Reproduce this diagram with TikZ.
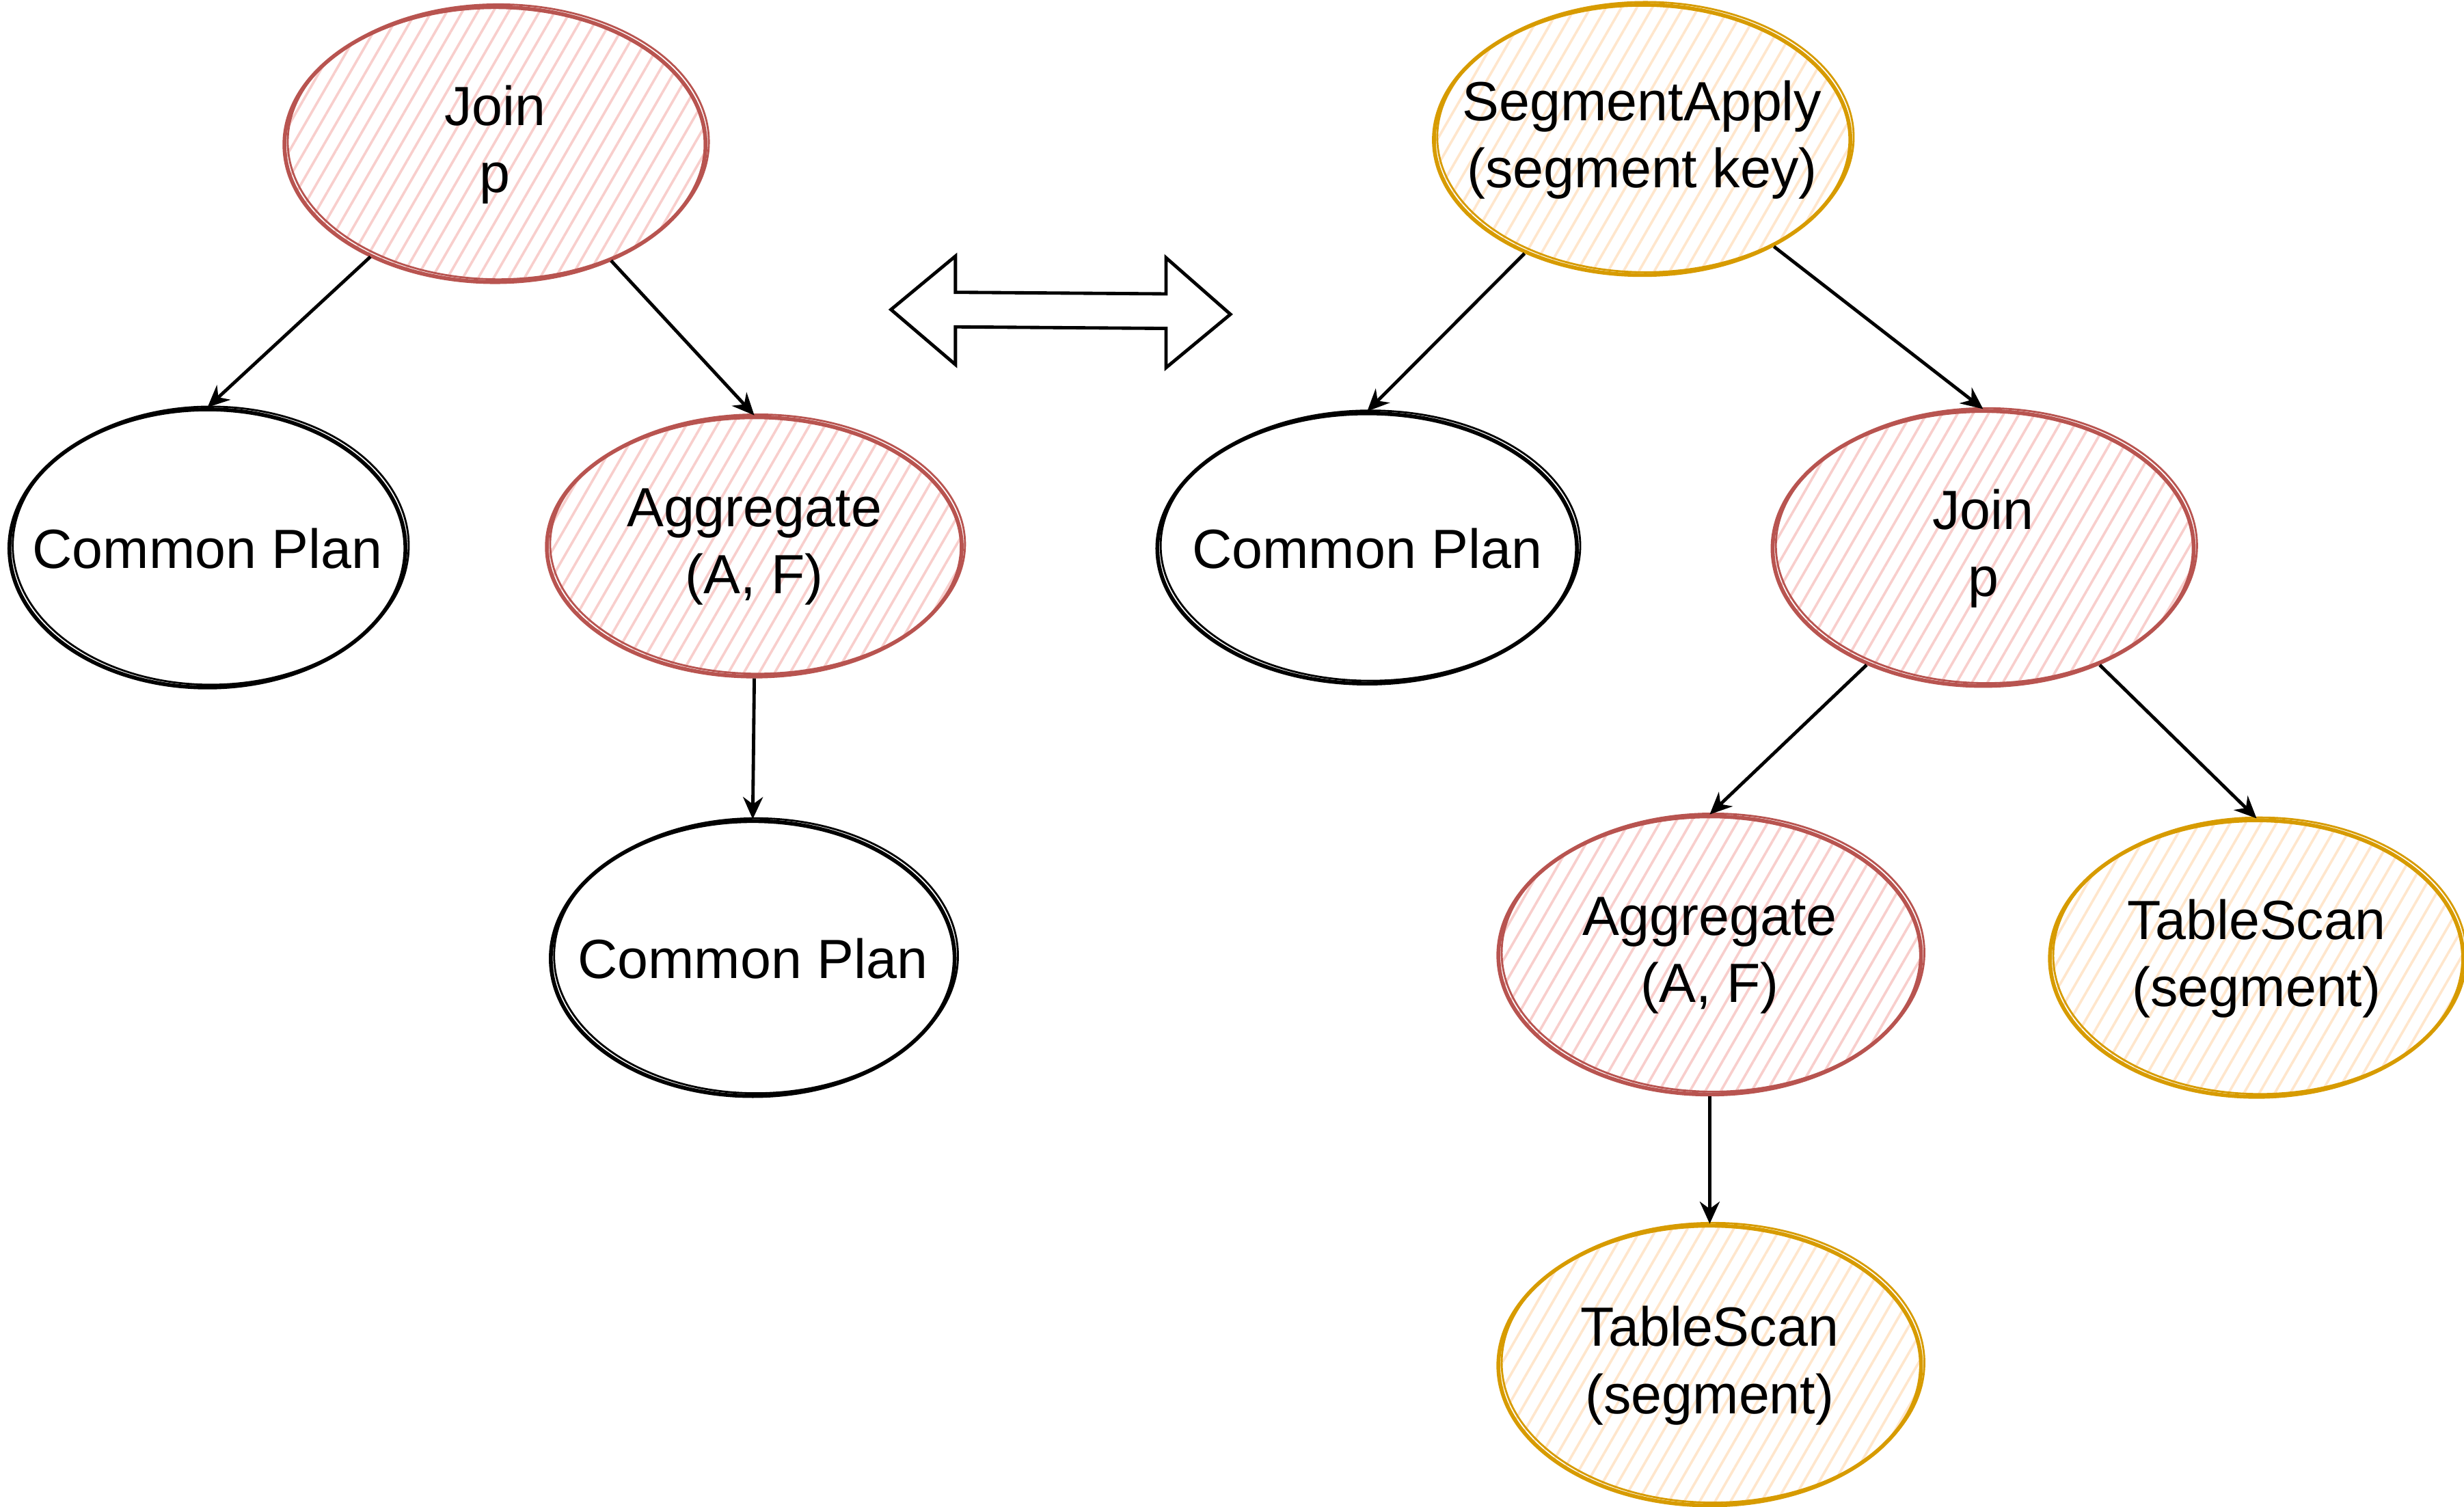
\documentclass[tikz,border=0pt]{standalone}
\usepackage{fontspec}
\setmainfont{Liberation Sans}
\usetikzlibrary{shapes.geometric,patterns.meta,arrows.meta}

\definecolor{redline}{HTML}{B85450}
\definecolor{redfill}{HTML}{F8CECC}
\definecolor{yellowline}{HTML}{D79B00}
\definecolor{yellowfill}{HTML}{FFE6CC}

\tikzset{
  plan/.style={ellipse, draw=black, line width=0.7pt, inner xsep=-0.3cm, inner ysep=0pt,
    minimum width=2.6cm, minimum height=1.75cm, align=center,
    font=\fontsize{10}{12.2}\selectfont,
    postaction={draw, line width=0.35pt, transform canvas={shift={(0.6pt,0.5pt)}}}},
  redop/.style={plan, draw=redline,
    pattern={Lines[angle=60, distance=0.85mm, line width=0.45pt]}, pattern color=redfill},
  yellowop/.style={plan, draw=yellowline,
    pattern={Lines[angle=60, distance=0.85mm, line width=0.45pt]}, pattern color=yellowfill},
}

\begin{document}
\begin{tikzpicture}[x=0.1mm, y=-0.1mm, >={Stealth[length=4pt,width=3.6pt]}]
  \useasboundingbox (0,0) rectangle (1568,959);

  % left plan
  \node[redop, minimum width=2.68cm] (joinL) at (315,92) {Join\\p};
  \node[plan, minimum width=2.52cm, minimum height=1.77cm] (planL) at (132,349) {Common Plan};
  \node[redop, minimum width=2.64cm, minimum height=1.65cm] (aggL) at (480,348) {Aggregate\\(A, F)};
  \node[plan, minimum width=2.57cm] (planLB) at (479,610) {Common Plan};

  \draw[->, line width=0.6pt] (joinL.222) -- (planL.north);
  \draw[->, line width=0.6pt] (joinL.315) -- (aggL.north);
  \draw[->, line width=0.6pt] (aggL.south) -- (planLB.north);

  % equivalence arrow
  \draw[line width=0.6pt] (567,197) -- (608,163) -- (608,186) -- (742,187) -- (742,164)
    -- (783,200) -- (742,234) -- (742,209) -- (608,208) -- (608,232) -- cycle;

  % right plan
  \node[yellowop, minimum width=2.65cm, minimum height=1.72cm] (segApply) at (1045,89) {SegmentApply\\(segment key)};
  \node[plan, minimum width=2.67cm, minimum height=1.72cm] (planR) at (870,349) {Common Plan};
  \node[redop, minimum width=2.68cm] (joinR) at (1262,349) {Join\\p};
  \node[redop, minimum width=2.69cm, minimum height=1.77cm] (aggR) at (1088,608) {Aggregate\\(A, F)};
  \node[yellowop, minimum width=2.63cm, minimum height=1.76cm] (scanR) at (1436,610) {TableScan\\(segment)};
  \node[yellowop, minimum width=2.69cm, minimum height=1.78cm] (scanB) at (1088,869) {TableScan\\(segment)};

  \draw[->, line width=0.6pt] (segApply.224) -- (planR.north);
  \draw[->, line width=0.6pt] (segApply.321) -- (joinR.north);
  \draw[->, line width=0.6pt] (joinR.225) -- (aggR.north);
  \draw[->, line width=0.6pt] (joinR.315) -- (scanR.north);
  \draw[->, line width=0.6pt] (aggR.south) -- (scanB.north);
\end{tikzpicture}
\end{document}
